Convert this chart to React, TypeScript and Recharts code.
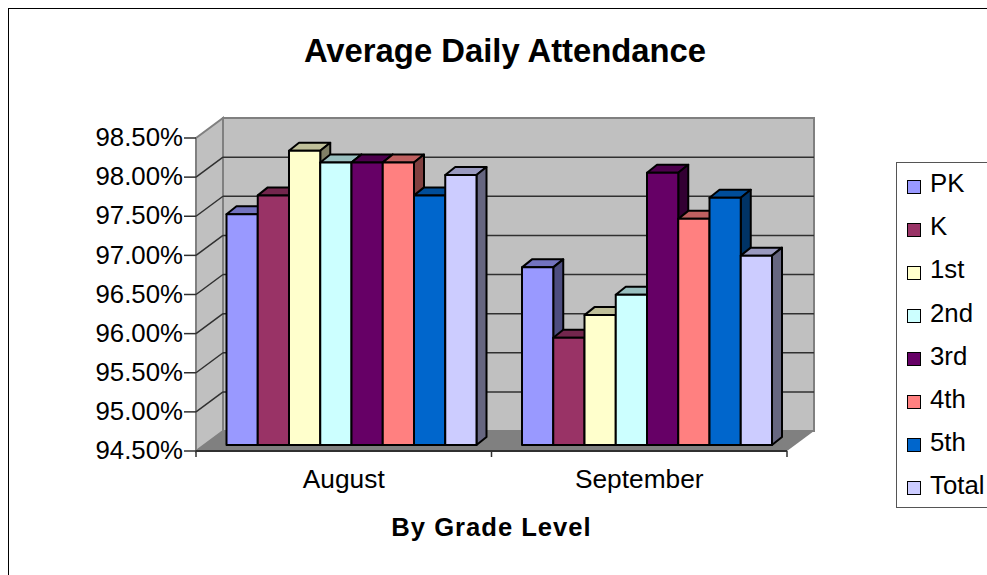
import { Bar, BarChart, Label, Legend, ReferenceArea, XAxis, YAxis } from 'recharts';

const months = ['August', 'September'];
const pk = [97.45, 96.77];
const k = [97.69, 95.87];
const first = [98.26, 96.16];
const second = [98.11, 96.42];
const third = [98.11, 97.98];
const fourth = [98.11, 97.39];
const fifth = [97.69, 97.66];
const total = [97.95, 96.92];
const yTicks = [94.5, 95, 95.5, 96, 96.5, 97, 97.5, 98, 98.5];

const series = [
  { key: 'PK', values: pk, color: '#9999FF' },
  { key: 'K', values: k, color: '#993366' },
  { key: '1st', values: first, color: '#FFFFCC' },
  { key: '2nd', values: second, color: '#CCFFFF' },
  { key: '3rd', values: third, color: '#660066' },
  { key: '4th', values: fourth, color: '#FF8080' },
  { key: '5th', values: fifth, color: '#0066CC' },
  { key: 'Total', values: total, color: '#CCCCFF' },
];

const rows = months.map((month, i) => {
  const row: Record<string, string | number> = { month };
  series.forEach((s) => {
    row[s.key] = s.values[i];
  });
  return row;
});

const FONT = '"Liberation Sans", Arial, sans-serif';

function shade(hex: string, f: number) {
  const n = parseInt(hex.slice(1), 16);
  const c = (v: number) => Math.round(v * f);
  return `rgb(${c((n >> 16) & 255)},${c((n >> 8) & 255)},${c(n & 255)})`;
}

// fake 3D column: front face pushed into the floor, then top and side faces
function Column3D({ x, y, width, height, fill }: any) {
  const fx = x + 7.5;
  const fy = y - 6;
  const dx = 10;
  const dy = 8;
  return (
    <g stroke="#000" strokeWidth={2} strokeLinejoin="round">
      <polygon
        points={`${fx},${fy} ${fx + dx},${fy - dy} ${fx + width + dx},${fy - dy} ${fx + width},${fy}`}
        fill={shade(fill, 0.75)}
      />
      <polygon
        points={`${fx + width},${fy} ${fx + width + dx},${fy - dy} ${fx + width + dx},${fy + height - dy} ${fx + width},${fy + height}`}
        fill={shade(fill, 0.5)}
      />
      <rect x={fx} y={fy} width={width} height={height} fill={fill} />
    </g>
  );
}

// back wall, side wall and floor of the 3D box
function Box3D({ x, y, width, height }: any) {
  const dx = 27;
  const dy = 20;
  const bottom = y + height;
  const right = x + width;
  const steps = yTicks.length - 1;
  const lines = yTicks.map((_, i) => y + (height * i) / steps);
  return (
    <g>
      <polygon
        points={`${x + dx},${y - dy} ${right + dx},${y - dy} ${right + dx},${bottom - dy} ${x + dx},${bottom - dy}`}
        fill="#C0C0C0"
        stroke="#808080"
        strokeWidth={2}
      />
      <polygon
        points={`${x},${y} ${x + dx},${y - dy} ${x + dx},${bottom - dy} ${x},${bottom}`}
        fill="#C0C0C0"
        stroke="#808080"
        strokeWidth={2}
      />
      <polygon
        points={`${x},${bottom} ${x + dx},${bottom - dy} ${right + dx},${bottom - dy} ${right},${bottom}`}
        fill="#808080"
      />
      {lines.slice(1, -1).map((ly) => (
        <g key={ly} stroke="#303030" strokeWidth={1.5} fill="none">
          <line x1={x} y1={ly} x2={x + dx} y2={ly - dy} />
          <line x1={x + dx} y1={ly - dy} x2={right + dx} y2={ly - dy} />
        </g>
      ))}
      <line x1={x} y1={bottom} x2={right} y2={bottom} stroke="#303030" strokeWidth={2} />
      {[0, 1, 2].map((i) => (
        <line
          key={i}
          x1={x + (width * i) / months.length}
          y1={bottom}
          x2={x + (width * i) / months.length}
          y2={bottom + 6}
          stroke="#303030"
          strokeWidth={1.5}
        />
      ))}
    </g>
  );
}

function LegendBox({ payload }: any) {
  return (
    <div
      style={{
        width: 110,
        height: 346,
        boxSizing: 'border-box',
        border: '1px solid #555',
        background: '#fff',
        position: 'relative',
        fontFamily: FONT,
        fontSize: 25.8,
        color: '#000',
      }}
    >
      {(payload || []).map((item: any, i: number) => (
        <div key={item.value}>
          <span
            style={{
              position: 'absolute',
              left: 9.5,
              top: 17 + i * 43,
              width: 12,
              height: 12,
              border: '1.5px solid #000',
              background: item.color,
            }}
          />
          <span style={{ position: 'absolute', left: 33, top: 5 + i * 43.2, lineHeight: '30px' }}>
            {item.value}
          </span>
        </div>
      ))}
    </div>
  );
}

export default function App() {
  return (
    <div style={{ position: 'absolute', left: 0, top: 0, width: 987, height: 575, overflow: 'hidden', background: '#fff' }}>
      <div
        style={{
          position: 'absolute',
          left: 8,
          top: 8,
          width: 1000,
          height: 600,
          borderLeft: '1px solid #000',
          borderTop: '1px solid #000',
        }}
      />
      <BarChart
        width={987}
        height={575}
        data={rows}
        barGap={0}
        barSize={31.25}
        margin={{ top: 138, right: 200, bottom: 0, left: 0 }}
        style={{ position: 'absolute', left: 0, top: 0, fontFamily: FONT }}
      >
        <text x={505} y={62} textAnchor="middle" fontSize={32.8} fontWeight="bold" fill="#000">
          Average Daily Attendance
        </text>
        <ReferenceArea y1={94.5} y2={98.5} ifOverflow="visible" shape={Box3D} />
        <XAxis
          dataKey="month"
          height={124}
          axisLine={false}
          tickLine={false}
          tickMargin={12}
          tick={{ fill: '#000', fontSize: 26.3 }}
        >
          <Label
            value="By Grade Level"
            position="insideBottom"
            offset={39}
            fill="#000"
            fontSize={25.6}
            fontWeight="bold"
            letterSpacing={1}
          />
        </XAxis>
        <YAxis
          width={196}
          domain={[94.5, 98.5]}
          ticks={yTicks}
          interval={0}
          tickFormatter={(v: number) => `${v.toFixed(2)}%`}
          axisLine={false}
          tickSize={12}
          tickMargin={1}
          tick={{ fill: '#000', fontSize: 25.8, dy: -1 }}
          tickLine={{ stroke: '#303030', strokeWidth: 1.5 }}
        />
        <Legend
          layout="vertical"
          align="center"
          verticalAlign="middle"
          itemSorter={null}
          content={LegendBox}
          wrapperStyle={{ left: 896, top: 162, width: 110, height: 346 }}
        />
        {series.map((s) => (
          <Bar key={s.key} dataKey={s.key} fill={s.color} shape={Column3D} isAnimationActive={false} />
        ))}
      </BarChart>
    </div>
  );
}
